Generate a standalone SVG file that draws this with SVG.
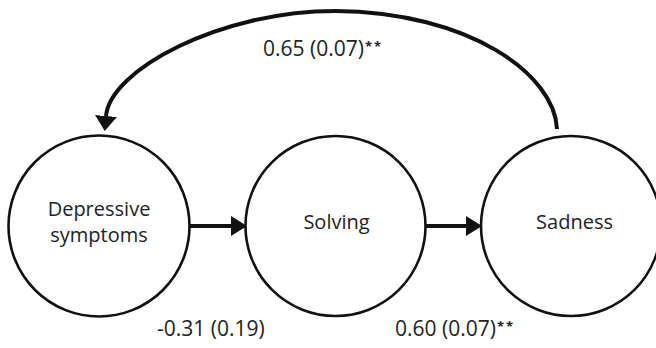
<svg xmlns="http://www.w3.org/2000/svg" width="656" height="348" viewBox="0 0 656 348">
  <style>
    .node { fill: #ffffff; stroke: #111111; stroke-width: 2.6; }
    .lbl { font-family: "Open Sans", "Liberation Sans", sans-serif; font-size: 20px; fill: #222222; text-anchor: middle; }
    .elbl { font-family: "Open Sans", "Liberation Sans", sans-serif; font-size: 21px; fill: #222222; }
    .ast { font-size: 13px; font-weight: bold; letter-spacing: 2px; }
    .edge { fill: none; stroke: #111111; stroke-width: 4; }
  </style>
  <defs>
    <marker id="arrowH" viewBox="0 0 16 20" refX="0" refY="10" markerWidth="16" markerHeight="20" markerUnits="userSpaceOnUse" orient="auto">
      <path d="M0,0 L16,10 L0,20 z" fill="#111111"/>
    </marker>
    <marker id="arrowC" viewBox="0 0 15 22" refX="0" refY="11" markerWidth="15" markerHeight="22" markerUnits="userSpaceOnUse" orient="auto">
      <path d="M0,0 L15,11 L0,22 z" fill="#111111"/>
    </marker>
  </defs>
  <rect width="656" height="348" fill="#ffffff"/>

  <g id="connectors">
    <line class="edge" x1="190" y1="226" x2="231" y2="226" marker-end="url(#arrowH)"/>
    <line class="edge" x1="425" y1="226" x2="466" y2="226" marker-end="url(#arrowH)"/>
    <path class="edge" d="M557,129 C555,75 470,12 335,11 C220,11 110,70 106,116" marker-end="url(#arrowC)"/>
  </g>

  <g id="node-depressive">
    <circle class="node" cx="99" cy="226" r="90.5"/>
    <text class="lbl" x="99" y="216">Depressive</text>
    <text class="lbl" x="99" y="242">symptoms</text>
  </g>
  <g id="node-solving">
    <circle class="node" cx="335.5" cy="226" r="90"/>
    <text class="lbl" x="336.5" y="229">Solving</text>
  </g>
  <g id="node-sadness">
    <circle class="node" cx="571" cy="226" r="90"/>
    <text class="lbl" x="574.5" y="229">Sadness</text>
  </g>

  <g id="edge-labels">
    <text class="elbl" x="263" y="56">0.65 (0.07)<tspan class="ast" dx="1" dy="-5">**</tspan></text>
    <text class="elbl" x="157" y="336">-0.31 (0.19)</text>
    <text class="elbl" x="395" y="336">0.60 (0.07)<tspan class="ast" dx="1" dy="-5">**</tspan></text>
  </g>
</svg>
